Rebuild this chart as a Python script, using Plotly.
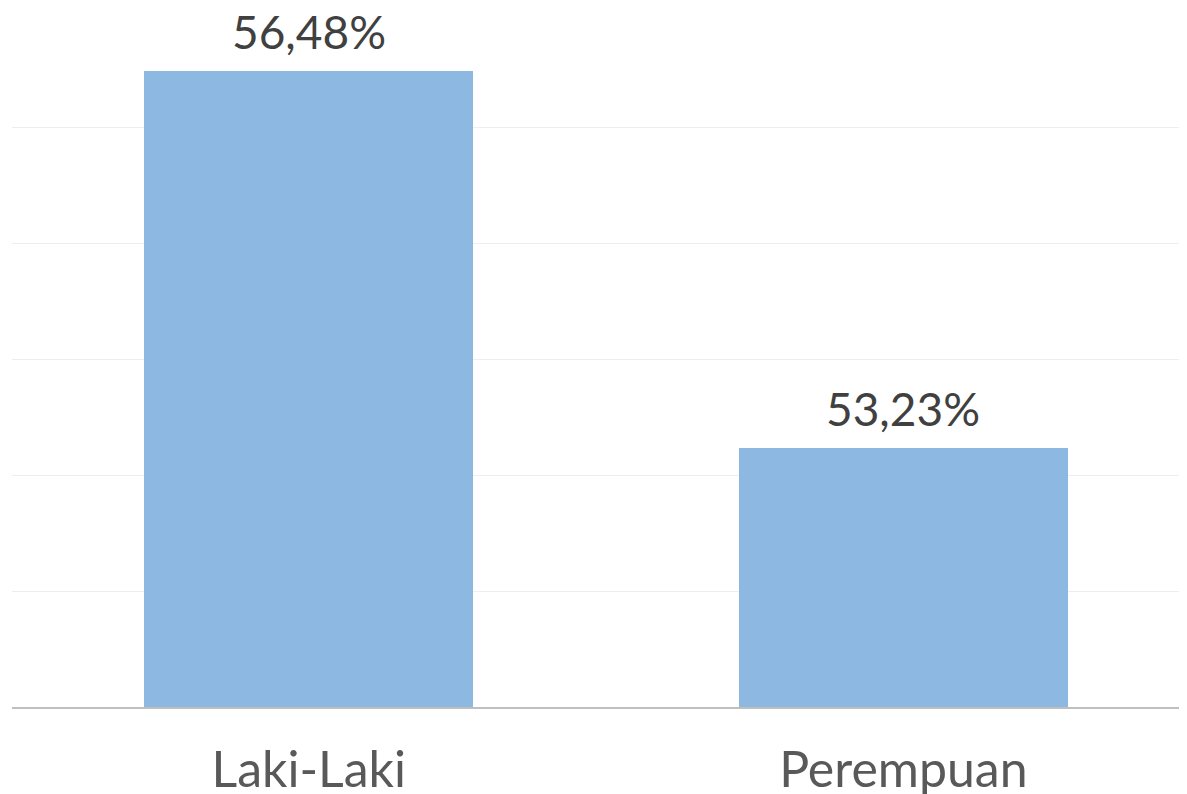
import plotly.graph_objects as go

categories = ["Laki-Laki", "Perempuan"]
values = [56.48, 53.23]

fig = go.Figure()
fig.add_trace(go.Bar(
    x=categories,
    y=values,
    width=0.553,
    marker=dict(color="#8DB8E1", line=dict(width=0)),
    hoverinfo="x+y",
))

for c, v in zip(categories, values):
    fig.add_annotation(
        x=c, y=v, xref="x", yref="y",
        text=f"{v:.2f}%".replace(".", ","),
        showarrow=False, yanchor="bottom", yshift=10,
        font=dict(family="Lato", size=46, color="#404040"),
    )

# page body has an 8px default margin, so the figure is sized to fit the window
fig.update_layout(
    width=1179, height=786,
    margin=dict(l=4, r=0, t=3, b=87),
    plot_bgcolor="white", paper_bgcolor="white",
    showlegend=False,
    bargap=0,
)
fig.update_xaxes(
    type="category",
    range=[-0.499, 1.477],
    automargin=False,
    showline=True, linecolor="#BFBFBF", linewidth=2,
    ticks="outside", ticklen=18, tickcolor="rgba(0,0,0,0)",
    tickfont=dict(family="Lato", size=50, color="#595959"),
    showgrid=False,
)
fig.update_yaxes(
    range=[51, 57.001], dtick=1,
    automargin=False,
    showticklabels=False,
    showgrid=True, gridcolor="#EEEEEE", gridwidth=1,
    zeroline=False,
)

fig.write_html("out.html")
